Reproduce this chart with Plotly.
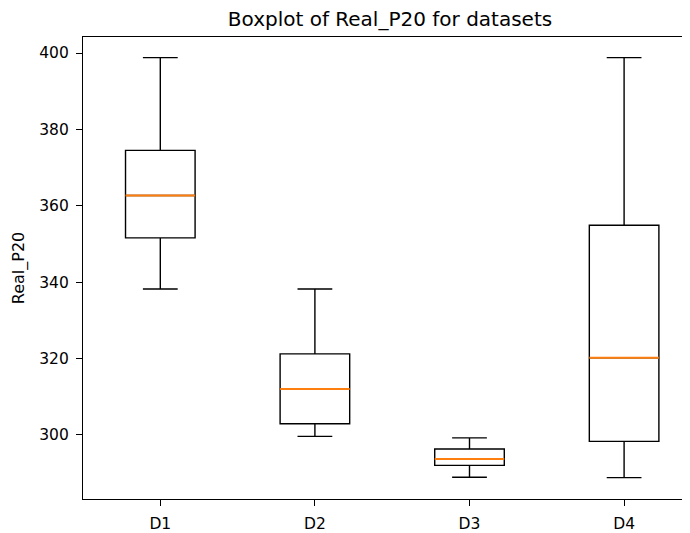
import plotly.graph_objects as go

# Data
categories = ["D1", "D2", "D3", "D4"]
positions = [1, 2, 3, 4]
lower_whisker = [338.2, 299.6, 288.9, 288.8]
q1_values = [351.6, 302.9, 292.0, 298.3]
median_values = [362.7, 312.0, 293.7, 320.2]
q3_values = [374.5, 321.2, 296.3, 354.9]
upper_whisker = [398.8, 338.2, 299.2, 398.8]

box_width = 0.45
y_ticks = [300, 320, 340, 360, 380, 400]

# page body has an 8px margin; compensate so the plot lands where the reference has it
OFF = 8
W, H = 690 - OFF, 533 - OFF

fig = go.Figure()

fig.add_trace(go.Box(
    x=positions,
    q1=q1_values,
    median=median_values,
    q3=q3_values,
    lowerfence=lower_whisker,
    upperfence=upper_whisker,
    width=box_width,
    whiskerwidth=0.5,
    line=dict(color="black", width=1.4),
    fillcolor="rgba(255,255,255,0)",
    boxpoints=False,
    showlegend=False,
    hoverinfo="skip",
))

# orange median lines drawn over the box's own median
mx, my = [], []
for p, m in zip(positions, median_values):
    mx += [p - box_width / 2, p + box_width / 2, None]
    my += [m, m, None]
fig.add_trace(go.Scatter(
    x=mx, y=my, mode="lines",
    line=dict(color="#ff7f0e", width=2),
    showlegend=False, hoverinfo="skip",
))

px_per_unit = 154.6
left_px = 83 - OFF
x_max = 0.5 + (W - left_px) / px_per_unit

fig.update_layout(
    width=W, height=H,
    margin=dict(l=left_px, r=0, t=37 - OFF, b=H - (504 - OFF)),
    plot_bgcolor="white", paper_bgcolor="white",
    font=dict(family="DejaVu Sans", size=15.5, color="black"),
    title=dict(
        text="Boxplot of Real_P20 for datasets",
        font=dict(family="DejaVu Sans", size=20, color="black"),
        x=(390 - OFF) / W, xref="container", xanchor="center",
        y=1 - (18.5 - OFF) / H, yref="container", yanchor="middle",
    ),
    xaxis=dict(
        range=[0.5, x_max],
        tickmode="array", tickvals=positions, ticktext=categories,
        showline=True, linecolor="black", linewidth=1.1, mirror=True,
        ticks="outside", ticklen=6, tickwidth=1.1, tickcolor="black",
        ticklabelstandoff=4,
        showgrid=False, zeroline=False,
    ),
    yaxis=dict(
        range=[283.2, 404.2],
        tickmode="array", tickvals=y_ticks,
        showline=True, linecolor="black", linewidth=1.1, mirror=False,
        ticks="outside", ticklen=6, tickwidth=1.1, tickcolor="black",
        ticklabelstandoff=4,
        showgrid=False, zeroline=False,
        title=dict(text="Real_P20", standoff=10,
                   font=dict(family="DejaVu Sans", size=16)),
    ),
)

fig.write_html("out.html")
